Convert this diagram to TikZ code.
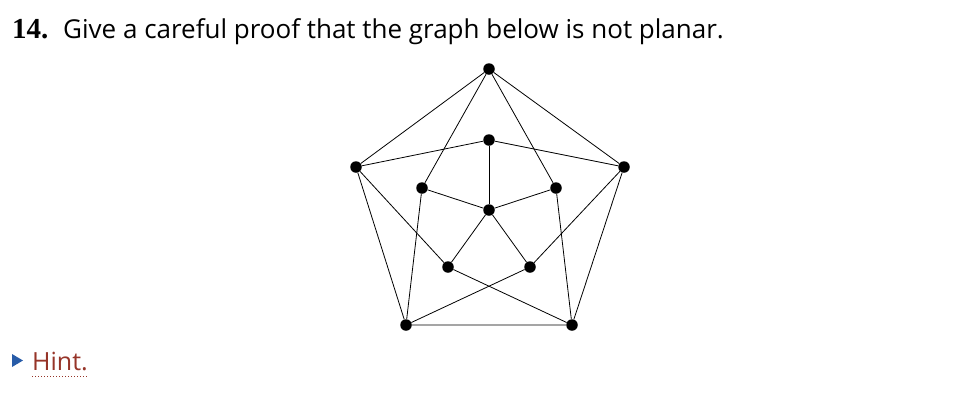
\documentclass[tikz,border=0pt]{standalone}
\usepackage{fontspec}
\newfontfamily\opensans{Open Sans}
\newfontfamily\numfont{Liberation Serif}
\definecolor{hintred}{RGB}{150,52,40}
\definecolor{hintblue}{RGB}{40,92,168}
\tikzset{
  vtx/.style={circle,fill=black,inner sep=0pt,minimum size=11.5pt},
  edge/.style={line width=0.8pt}
}
\begin{document}
\begin{tikzpicture}[x=1pt,y=-1pt]
        \useasboundingbox (0,0) rectangle (974,416);
        % problem statement
        \node[anchor=base west,inner sep=0pt] (num) at (12,38) {\fontsize{29}{32}\selectfont\numfont\bfseries 14.};
        \node[anchor=base west,inner sep=0pt] (task) at (63,38) {\fontsize{26}{30}\selectfont\opensans Give a careful proof that the graph below is not planar.};
        % outer vertices
        \node[vtx] (t) at (489,69) {};
        \node[vtx] (l) at (356,167) {};
        \node[vtx] (r) at (624,167) {};
        \node[vtx] (bl) at (406,325) {};
        \node[vtx] (br) at (572,325) {};
        % inner vertices
        \node[vtx] (it) at (489,140) {};
        \node[vtx] (il) at (422,188) {};
        \node[vtx] (ir) at (556,188) {};
        \node[vtx] (ibl) at (448,267) {};
        \node[vtx] (ibr) at (530,267) {};
        \node[vtx] (c) at (489,210) {};
        % edges
        \draw[edge] (t) -- (l) -- (bl) -- (br) -- (r) -- (t);
        \draw[edge] (il) -- (t) -- (ir);
        \draw[edge] (l) -- (it) -- (r);
        \draw[edge] (it) -- (c);
        \draw[edge] (il) -- (c) -- (ir);
        \draw[edge] (ibl) -- (c) -- (ibr);
        \draw[edge] (l) -- (ibl) -- (br);
        \draw[edge] (r) -- (ibr) -- (bl);
        \draw[edge] (il) -- (bl);
        \draw[edge] (ir) -- (br);
        % hint
        \fill[hintblue] (12,354) -- (23,360.5) -- (12,367) -- cycle;
        \node[anchor=base west,inner sep=0pt,text=hintred] (hint) at (32,370) {\fontsize{25}{30}\selectfont\opensans Hint.};
        \draw[hintred,line width=1pt,dotted] (32,376) -- (87,376);
\end{tikzpicture}
\end{document}
